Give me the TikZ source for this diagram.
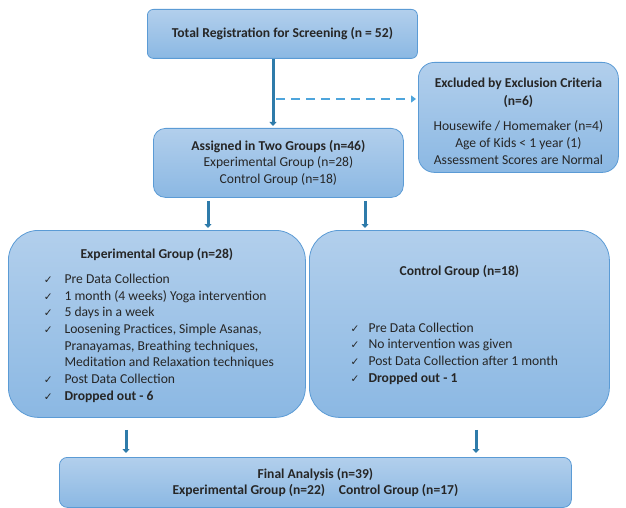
\documentclass[tikz,border=0pt]{standalone}
\usepackage{fontspec}
\setmainfont{Carlito}
\newfontfamily\dejavu{DejaVu Sans}
\usetikzlibrary{arrows.meta}
\definecolor{boxtop}{HTML}{B2CFEC}
\definecolor{boxbot}{HTML}{8BB8E3}
\definecolor{boxline}{HTML}{5B9BD5}
\definecolor{arrowc}{HTML}{2E7BAA}
\definecolor{dashc}{HTML}{4EA5DC}
\definecolor{txt}{HTML}{262626}
\newcommand\ck{{\dejavu\fontsize{10.5}{10}\selectfont ✓}}
\tikzset{
  box/.style={draw=boxline, line width=0.8pt, top color=boxtop, bottom color=boxbot,
    anchor=north west, inner sep=0pt, align=center, text=txt,
    font=\fontsize{13.6}{16.7}\selectfont},
  flow/.style={draw=arrowc, line width=3pt, -{Triangle[width=7pt,length=4pt]}},
  dashflow/.style={draw=dashc, line width=2pt, dash pattern=on 9pt off 6pt, -{Triangle[width=7pt,length=5pt]}}
}
\begin{document}
\begin{tikzpicture}[x=1pt,y=-1pt]
\useasboundingbox (0,0) rectangle (626,508);
\node[box, rounded corners=6pt, minimum width=270pt, minimum height=49pt] (reg) at (147,9)
  {\textbf{Total Registration for Screening (n = 52)}};
\node[box, rounded corners=16pt, minimum width=200pt, minimum height=110pt] (excl) at (418,62)
  {\rule{0pt}{17pt}\textbf{Excluded by Exclusion Criteria}\\[1.5pt] \textbf{(n=6)}\\[8pt]
   Housewife / Homemaker (n=4)\\ Age of Kids {<} 1 year (1)\\ Assessment Scores are Normal};
\node[box, rounded corners=12pt, minimum width=250pt, minimum height=69pt] (assign) at (153,128)
  {\textbf{Assigned in Two Groups (n=46)}\\ Experimental Group (n=28)\\ Control Group (n=18)};
\node[box, rounded corners=30pt, minimum width=297pt, minimum height=187pt] (exp) at (8,230)
  {\rule{0pt}{16pt}\textbf{Experimental Group (n=28)}\\[10pt]
   \hspace{4pt}\begin{tabular}{@{}l@{\hspace{12pt}}l@{}}
   \ck & Pre Data Collection\\
   \ck & 1 month (4 weeks) Yoga intervention\\
   \ck & 5 days in a week\\
   \ck & Loosening Practices, Simple Asanas,\\
       & Pranayamas, Breathing techniques,\\
       & Meditation and Relaxation techniques\\
   \ck & Post Data Collection\\
   \ck & \textbf{Dropped out - 6}
   \end{tabular}\hspace{8pt}};
\node[box, rounded corners=30pt, minimum width=300pt, minimum height=187pt] (ctrl) at (309,230)
  {\rule{0pt}{15pt}\textbf{Control Group (n=18)}\\[42pt]
   \hspace{-10pt}\begin{tabular}{@{}l@{\hspace{9pt}}l@{}}
   \ck & Pre Data Collection\\
   \ck & No intervention was given\\
   \ck & Post Data Collection after 1 month\\
   \ck & \textbf{Dropped out - 1}
   \end{tabular}};
\node[box, rounded corners=8pt, minimum width=512pt, minimum height=50pt] (final) at (59,457)
  {\textbf{Final Analysis (n=39)}\\ \textbf{Experimental Group (n=22)\quad Control Group (n=17)}};
\coordinate (bend) at (273,99);
\draw[flow] (reg.south -| bend) -- ([yshift=2pt]assign.north -| bend);
\draw[dashflow] ([xshift=3pt]bend) -- ([xshift=-2pt]excl.west |- bend);
\coordinate (a1) at (208,0);
\coordinate (a2) at (365,0);
\coordinate (b1) at (126,0);
\coordinate (b2) at (476,0);
\draw[flow] ([yshift=-3pt]assign.south -| a1) -- ([yshift=2pt]exp.north -| a1);
\draw[flow] ([yshift=-3pt]assign.south -| a2) -- ([yshift=2pt]ctrl.north -| a2);
\draw[flow] ([yshift=-12pt]exp.south -| b1) -- ([yshift=4pt]final.north -| b1);
\draw[flow] ([yshift=-12pt]ctrl.south -| b2) -- ([yshift=4pt]final.north -| b2);
\end{tikzpicture}
\end{document}
